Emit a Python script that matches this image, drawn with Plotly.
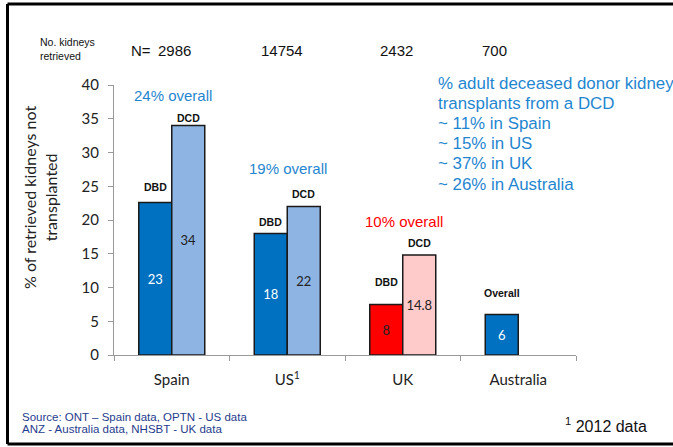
import plotly.graph_objects as go

# ---------------- data ----------------
countries = ["Spain", "US", "UK", "Australia"]
country_ticks = ["Spain", "US<sup>1</sup>", "UK", "Australia"]
dbd_values = [22.6, 18.0, 7.5, 6.0]           # DBD (Australia: overall)
dcd_values = [34.0, 22.0, 14.8, None]
dbd_labels = ["23", "18", "8", "6"]
dcd_labels = ["34", "22", "14.8", ""]
dbd_tags = ["DBD", "DBD", "DBD", "Overall"]
dcd_tags = ["DCD", "DCD", "DCD", ""]
n_retrieved = ["2986", "14754", "2432", "700"]
overall_text = ["24% overall", "19% overall", "10% overall"]
overall_value = [38.5, 27.7, 19.75]
dcd_share_lines = ["% adult deceased donor kidney", "transplants from a DCD",
                   "~ 11% in Spain", "~ 15% in US", "~ 37% in UK", "~ 26% in Australia"]
source_lines = ["Source: ONT \u2013 Spain data, OPTN - US data",
                "ANZ - Australia data, NHSBT - UK data"]

# ---------------- styling ----------------
W, H = 673, 447
L, R, T, B = 114, 576, 85, 355
def px(x): return (x - L) / (R - L)
def py(y): return (B - y) / (B - T)

BLUE = "#0070C0"
LBLUE = "#8EB4E3"
RED = "#FF0000"
PINK = "#FFCACA"
TXTBLUE = "#1F86D0"
CAL = "Lato, Carlito, Calibri, sans-serif"
ARIAL = "Liberation Sans, Arial, sans-serif"

dbd_colors = [BLUE, BLUE, RED, BLUE]
dcd_colors = [LBLUE, LBLUE, PINK, LBLUE]
dbd_txtcol = ["white", "white", "#222", "white"]
dcd_txtcol = ["#222", "#222", "#222", "#222"]

fig = go.Figure()
fig.add_trace(go.Bar(
    x=countries, y=dbd_values, text=dbd_labels, textposition="inside",
    insidetextanchor="middle", textangle=0,
    textfont=dict(family=CAL, size=13, color=dbd_txtcol),
    marker=dict(color=dbd_colors, line=dict(color="#1a1a1a", width=1.5)),
    showlegend=False, hoverinfo="skip"))
fig.add_trace(go.Bar(
    x=countries, y=dcd_values, text=dcd_labels, textposition="inside",
    insidetextanchor="middle", textangle=0,
    textfont=dict(family=CAL, size=13, color=dcd_txtcol),
    marker=dict(color=dcd_colors, line=dict(color="#1a1a1a", width=1.5)),
    showlegend=False, hoverinfo="skip"))

ann = []
def add(**kw):
    kw.setdefault("showarrow", False)
    kw.setdefault("xanchor", "center")
    kw.setdefault("yanchor", "middle")
    ann.append(kw)

# DBD / DCD tags above bars
dbd_off = [15, 12, 22, 22]
dcd_off = [8, 13, 12, 0]
for i, c in enumerate(countries):
    add(x=c, y=dbd_values[i], xref="x", yref="y", text="<b>%s</b>" % dbd_tags[i],
        xshift=-16.5, yshift=dbd_off[i], font=dict(family=ARIAL, size=10.5, color="#111"))
    if dcd_values[i] is not None:
        add(x=c, y=dcd_values[i], xref="x", yref="y", text="<b>%s</b>" % dcd_tags[i],
            xshift=16.5, yshift=dcd_off[i], font=dict(family=ARIAL, size=10.5, color="#111"))
# overall % labels
ov_col = [TXTBLUE, TXTBLUE, RED]
for i in range(3):
    add(x=countries[i], y=overall_value[i], xref="x", yref="y", text=overall_text[i],
        xshift=1, font=dict(family=ARIAL, size=15, color=ov_col[i]))
# N row
n_x = [174, 282, 396, 494]
for i in range(4):
    add(x=px(n_x[i]), y=py(50), xref="paper", yref="paper", text=n_retrieved[i],
        font=dict(family=ARIAL, size=15, color="#111"))
add(x=px(129), y=py(50), xref="paper", yref="paper", text="N=", xanchor="left",
    font=dict(family=ARIAL, size=15, color="#111"))
add(x=px(38), y=py(49.5), xref="paper", yref="paper", text="No. kidneys<br>retrieved",
    xanchor="left", align="left", font=dict(family=ARIAL, size=10.5, color="#111"))
# DCD share text block
for i, line in enumerate(dcd_share_lines):
    add(x=px(436), y=py(83 + 20.2 * i), xref="paper", yref="paper", text=line,
        xanchor="left", font=dict(family=ARIAL, size=16.9, color=TXTBLUE))
# y title
add(x=px(40), y=py(198), xref="paper", yref="paper",
    text="% of retrieved kidneys not<br>transplanted", textangle=-90,
    font=dict(family=CAL, size=16, color="#222"))
# source & footnote
for i, line in enumerate(source_lines):
    add(x=px(20), y=py(416.5 + 12 * i), xref="paper", yref="paper", text=line,
        xanchor="left", font=dict(family=ARIAL, size=11.5, color="#1F3C8C"))
add(x=px(649), y=py(425), xref="paper", yref="paper",
    text="<sup>1</sup> 2012 data", xanchor="right", font=dict(family=ARIAL, size=16, color="#111"))

shapes = []
for (x0, y0, x1, y1) in [(7.5, 4, 673, 4), (7.5, 444, 673, 444), (7.5, 4, 7.5, 444)]:
    shapes.append(dict(type="line", xref="paper", yref="paper", x0=px(x0), x1=px(x1),
                       y0=py(y0), y1=py(y1), line=dict(color="black", width=3)))

fig.update_layout(
    width=W, height=H, margin=dict(l=L, r=W - R, t=T, b=H - B),
    paper_bgcolor="white", plot_bgcolor="white",
    barmode="group", bargap=0.4286, bargroupgap=0,
    annotations=ann, shapes=shapes,
    xaxis=dict(tickvals=countries, ticktext=country_ticks, tickson="boundaries",
               ticks="outside", ticklen=5, tickcolor="#999", showline=True,
               linecolor="#999", linewidth=1, showgrid=False, ticklabelstandoff=11,
               tickfont=dict(family=CAL, size=15, color="#222")),
    yaxis=dict(range=[0, 40], dtick=5, ticks="outside", ticklen=5, tickcolor="#999",
               showline=True, linecolor="#999", linewidth=1, showgrid=False, zeroline=False,
               ticklabelstandoff=6,
               tickfont=dict(family=CAL, size=15, color="#222")),
)
fig.write_html("out.html", config={"displayModeBar": False},
               post_script="document.body.style.margin='0';document.body.style.overflow='hidden';"
                           "document.documentElement.style.overflow='hidden';")
